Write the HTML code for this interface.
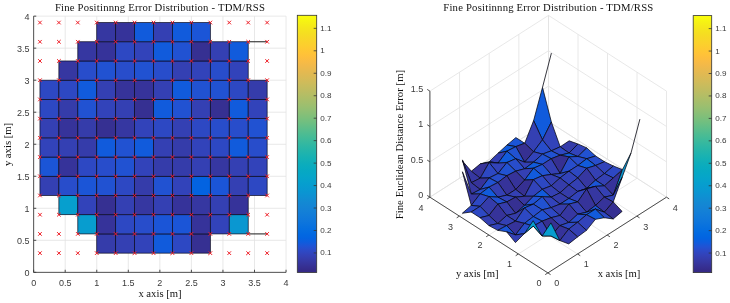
<!DOCTYPE html>
<html><head><meta charset="utf-8"><title>Fine Positinnng Error Distribution - TDM/RSS</title>
<style>html,body{margin:0;padding:0;background:#fff}svg{display:block}.t{font-family:"Liberation Sans",sans-serif;font-size:9px;fill:#3a3a3a}.c{font-family:"Liberation Sans",sans-serif;font-size:8.1px;fill:#3a3a3a}.s{font-family:"Liberation Serif",serif;fill:#111}</style></head><body>
<svg width="730" height="303" viewBox="0 0 730 303">
<rect width="730" height="303" fill="#fff"/>
<defs><linearGradient id="cb" x1="0" y1="1" x2="0" y2="0">
<stop offset="0.0078" stop-color="#352a87"/>
<stop offset="0.0234" stop-color="#363093"/>
<stop offset="0.0391" stop-color="#3637a0"/>
<stop offset="0.0547" stop-color="#353dad"/>
<stop offset="0.0703" stop-color="#3243ba"/>
<stop offset="0.0859" stop-color="#2c4ac7"/>
<stop offset="0.1016" stop-color="#2053d4"/>
<stop offset="0.1172" stop-color="#0f5cdd"/>
<stop offset="0.1328" stop-color="#0363e1"/>
<stop offset="0.1484" stop-color="#0268e1"/>
<stop offset="0.1641" stop-color="#046de0"/>
<stop offset="0.1797" stop-color="#0871de"/>
<stop offset="0.1953" stop-color="#0d75dc"/>
<stop offset="0.2109" stop-color="#1079da"/>
<stop offset="0.2266" stop-color="#127dd8"/>
<stop offset="0.2422" stop-color="#1481d6"/>
<stop offset="0.2578" stop-color="#1485d4"/>
<stop offset="0.2734" stop-color="#1389d3"/>
<stop offset="0.2891" stop-color="#108ed2"/>
<stop offset="0.3047" stop-color="#0c93d2"/>
<stop offset="0.3203" stop-color="#0998d1"/>
<stop offset="0.3359" stop-color="#079ccf"/>
<stop offset="0.3516" stop-color="#06a0cd"/>
<stop offset="0.3672" stop-color="#06a4ca"/>
<stop offset="0.3828" stop-color="#06a7c6"/>
<stop offset="0.3984" stop-color="#07a9c2"/>
<stop offset="0.4141" stop-color="#0aacbe"/>
<stop offset="0.4297" stop-color="#0faeb9"/>
<stop offset="0.4453" stop-color="#15b1b4"/>
<stop offset="0.4609" stop-color="#1db3af"/>
<stop offset="0.4766" stop-color="#25b5a9"/>
<stop offset="0.4922" stop-color="#2eb7a4"/>
<stop offset="0.5078" stop-color="#38b99e"/>
<stop offset="0.5234" stop-color="#42bb98"/>
<stop offset="0.5391" stop-color="#4dbc92"/>
<stop offset="0.5547" stop-color="#59bd8c"/>
<stop offset="0.5703" stop-color="#65be86"/>
<stop offset="0.5859" stop-color="#71bf80"/>
<stop offset="0.6016" stop-color="#7cbf7b"/>
<stop offset="0.6172" stop-color="#87bf77"/>
<stop offset="0.6328" stop-color="#92bf73"/>
<stop offset="0.6484" stop-color="#9cbf6f"/>
<stop offset="0.6641" stop-color="#a5be6b"/>
<stop offset="0.6797" stop-color="#aebe67"/>
<stop offset="0.6953" stop-color="#b7bd64"/>
<stop offset="0.7109" stop-color="#c0bc60"/>
<stop offset="0.7266" stop-color="#c8bc5d"/>
<stop offset="0.7422" stop-color="#d1bb59"/>
<stop offset="0.7578" stop-color="#d9ba56"/>
<stop offset="0.7734" stop-color="#e1b952"/>
<stop offset="0.7891" stop-color="#e9b94e"/>
<stop offset="0.8047" stop-color="#f1b94a"/>
<stop offset="0.8203" stop-color="#f8bb44"/>
<stop offset="0.8359" stop-color="#fdbe3d"/>
<stop offset="0.8516" stop-color="#ffc337"/>
<stop offset="0.8672" stop-color="#fec832"/>
<stop offset="0.8828" stop-color="#fcce2e"/>
<stop offset="0.8984" stop-color="#fad32a"/>
<stop offset="0.9141" stop-color="#f7d826"/>
<stop offset="0.9297" stop-color="#f5de21"/>
<stop offset="0.9453" stop-color="#f5e41d"/>
<stop offset="0.9609" stop-color="#f5eb18"/>
<stop offset="0.9766" stop-color="#f6f313"/>
<stop offset="0.9922" stop-color="#f9fb0e"/>
</linearGradient></defs>
<path d="M65.20 272.35V16.15M33.65 240.32H286.05M96.75 272.35V16.15M33.65 208.30H286.05M128.30 272.35V16.15M33.65 176.28H286.05M159.85 272.35V16.15M33.65 144.25H286.05M191.40 272.35V16.15M33.65 112.22H286.05M222.95 272.35V16.15M33.65 80.20H286.05M254.50 272.35V16.15M33.65 48.17H286.05M286.05 272.35V16.15M33.65 16.15H286.05" stroke="#e2e2e2" stroke-width="0.8" fill="none"/>
<rect x="96.75" y="233.92" width="18.93" height="19.21" fill="#353caa" stroke="#0a0a20" stroke-width="0.7"/>
<rect x="115.68" y="233.92" width="18.93" height="19.21" fill="#3440b3" stroke="#0a0a20" stroke-width="0.7"/>
<rect x="134.61" y="233.92" width="18.93" height="19.21" fill="#3243ba" stroke="#0a0a20" stroke-width="0.7"/>
<rect x="153.54" y="233.92" width="18.93" height="19.21" fill="#115bdc" stroke="#0a0a20" stroke-width="0.7"/>
<rect x="172.47" y="233.92" width="18.93" height="19.21" fill="#2d48c3" stroke="#0a0a20" stroke-width="0.7"/>
<rect x="191.40" y="233.92" width="18.93" height="19.21" fill="#363092" stroke="#0a0a20" stroke-width="0.7"/>
<rect x="77.82" y="214.71" width="18.93" height="19.21" fill="#079dcf" stroke="#0a0a20" stroke-width="0.7"/>
<rect x="96.75" y="214.71" width="18.93" height="19.21" fill="#36339a" stroke="#0a0a20" stroke-width="0.7"/>
<rect x="115.68" y="214.71" width="18.93" height="19.21" fill="#2d48c3" stroke="#0a0a20" stroke-width="0.7"/>
<rect x="134.61" y="214.71" width="18.93" height="19.21" fill="#284dcb" stroke="#0a0a20" stroke-width="0.7"/>
<rect x="153.54" y="214.71" width="18.93" height="19.21" fill="#1b55d7" stroke="#0a0a20" stroke-width="0.7"/>
<rect x="172.47" y="214.71" width="18.93" height="19.21" fill="#1b55d7" stroke="#0a0a20" stroke-width="0.7"/>
<rect x="191.40" y="214.71" width="18.93" height="19.21" fill="#36339a" stroke="#0a0a20" stroke-width="0.7"/>
<rect x="210.33" y="214.71" width="18.93" height="19.21" fill="#3243ba" stroke="#0a0a20" stroke-width="0.7"/>
<rect x="229.26" y="214.71" width="18.93" height="19.21" fill="#0a97d1" stroke="#0a0a20" stroke-width="0.7"/>
<rect x="58.89" y="195.49" width="18.93" height="19.21" fill="#069fce" stroke="#0a0a20" stroke-width="0.7"/>
<rect x="77.82" y="195.49" width="18.93" height="19.21" fill="#3243ba" stroke="#0a0a20" stroke-width="0.7"/>
<rect x="96.75" y="195.49" width="18.93" height="19.21" fill="#363092" stroke="#0a0a20" stroke-width="0.7"/>
<rect x="115.68" y="195.49" width="18.93" height="19.21" fill="#3440b3" stroke="#0a0a20" stroke-width="0.7"/>
<rect x="134.61" y="195.49" width="18.93" height="19.21" fill="#3637a1" stroke="#0a0a20" stroke-width="0.7"/>
<rect x="153.54" y="195.49" width="18.93" height="19.21" fill="#3440b3" stroke="#0a0a20" stroke-width="0.7"/>
<rect x="172.47" y="195.49" width="18.93" height="19.21" fill="#36339a" stroke="#0a0a20" stroke-width="0.7"/>
<rect x="191.40" y="195.49" width="18.93" height="19.21" fill="#3637a1" stroke="#0a0a20" stroke-width="0.7"/>
<rect x="210.33" y="195.49" width="18.93" height="19.21" fill="#3440b3" stroke="#0a0a20" stroke-width="0.7"/>
<rect x="229.26" y="195.49" width="18.93" height="19.21" fill="#36339a" stroke="#0a0a20" stroke-width="0.7"/>
<rect x="39.96" y="176.28" width="18.93" height="19.21" fill="#3440b3" stroke="#0a0a20" stroke-width="0.7"/>
<rect x="58.89" y="176.28" width="18.93" height="19.21" fill="#284dcb" stroke="#0a0a20" stroke-width="0.7"/>
<rect x="77.82" y="176.28" width="18.93" height="19.21" fill="#1b55d7" stroke="#0a0a20" stroke-width="0.7"/>
<rect x="96.75" y="176.28" width="18.93" height="19.21" fill="#2152d2" stroke="#0a0a20" stroke-width="0.7"/>
<rect x="115.68" y="176.28" width="18.93" height="19.21" fill="#2d48c3" stroke="#0a0a20" stroke-width="0.7"/>
<rect x="134.61" y="176.28" width="18.93" height="19.21" fill="#353caa" stroke="#0a0a20" stroke-width="0.7"/>
<rect x="153.54" y="176.28" width="18.93" height="19.21" fill="#2152d2" stroke="#0a0a20" stroke-width="0.7"/>
<rect x="172.47" y="176.28" width="18.93" height="19.21" fill="#3243ba" stroke="#0a0a20" stroke-width="0.7"/>
<rect x="191.40" y="176.28" width="18.93" height="19.21" fill="#0363e1" stroke="#0a0a20" stroke-width="0.7"/>
<rect x="210.33" y="176.28" width="18.93" height="19.21" fill="#1b55d7" stroke="#0a0a20" stroke-width="0.7"/>
<rect x="229.26" y="176.28" width="18.93" height="19.21" fill="#3440b3" stroke="#0a0a20" stroke-width="0.7"/>
<rect x="248.19" y="176.28" width="18.93" height="19.21" fill="#2d48c3" stroke="#0a0a20" stroke-width="0.7"/>
<rect x="39.96" y="157.06" width="18.93" height="19.21" fill="#1b55d7" stroke="#0a0a20" stroke-width="0.7"/>
<rect x="58.89" y="157.06" width="18.93" height="19.21" fill="#36339a" stroke="#0a0a20" stroke-width="0.7"/>
<rect x="77.82" y="157.06" width="18.93" height="19.21" fill="#2d48c3" stroke="#0a0a20" stroke-width="0.7"/>
<rect x="96.75" y="157.06" width="18.93" height="19.21" fill="#284dcb" stroke="#0a0a20" stroke-width="0.7"/>
<rect x="115.68" y="157.06" width="18.93" height="19.21" fill="#2152d2" stroke="#0a0a20" stroke-width="0.7"/>
<rect x="134.61" y="157.06" width="18.93" height="19.21" fill="#3243ba" stroke="#0a0a20" stroke-width="0.7"/>
<rect x="153.54" y="157.06" width="18.93" height="19.21" fill="#353caa" stroke="#0a0a20" stroke-width="0.7"/>
<rect x="172.47" y="157.06" width="18.93" height="19.21" fill="#353caa" stroke="#0a0a20" stroke-width="0.7"/>
<rect x="191.40" y="157.06" width="18.93" height="19.21" fill="#3440b3" stroke="#0a0a20" stroke-width="0.7"/>
<rect x="210.33" y="157.06" width="18.93" height="19.21" fill="#3637a1" stroke="#0a0a20" stroke-width="0.7"/>
<rect x="229.26" y="157.06" width="18.93" height="19.21" fill="#3440b3" stroke="#0a0a20" stroke-width="0.7"/>
<rect x="248.19" y="157.06" width="18.93" height="19.21" fill="#3243ba" stroke="#0a0a20" stroke-width="0.7"/>
<rect x="39.96" y="137.85" width="18.93" height="19.21" fill="#3243ba" stroke="#0a0a20" stroke-width="0.7"/>
<rect x="58.89" y="137.85" width="18.93" height="19.21" fill="#3440b3" stroke="#0a0a20" stroke-width="0.7"/>
<rect x="77.82" y="137.85" width="18.93" height="19.21" fill="#353caa" stroke="#0a0a20" stroke-width="0.7"/>
<rect x="96.75" y="137.85" width="18.93" height="19.21" fill="#115bdc" stroke="#0a0a20" stroke-width="0.7"/>
<rect x="115.68" y="137.85" width="18.93" height="19.21" fill="#2152d2" stroke="#0a0a20" stroke-width="0.7"/>
<rect x="134.61" y="137.85" width="18.93" height="19.21" fill="#115bdc" stroke="#0a0a20" stroke-width="0.7"/>
<rect x="153.54" y="137.85" width="18.93" height="19.21" fill="#3440b3" stroke="#0a0a20" stroke-width="0.7"/>
<rect x="172.47" y="137.85" width="18.93" height="19.21" fill="#353caa" stroke="#0a0a20" stroke-width="0.7"/>
<rect x="191.40" y="137.85" width="18.93" height="19.21" fill="#3243ba" stroke="#0a0a20" stroke-width="0.7"/>
<rect x="210.33" y="137.85" width="18.93" height="19.21" fill="#2d48c3" stroke="#0a0a20" stroke-width="0.7"/>
<rect x="229.26" y="137.85" width="18.93" height="19.21" fill="#115bdc" stroke="#0a0a20" stroke-width="0.7"/>
<rect x="248.19" y="137.85" width="18.93" height="19.21" fill="#284dcb" stroke="#0a0a20" stroke-width="0.7"/>
<rect x="39.96" y="118.63" width="18.93" height="19.21" fill="#3440b3" stroke="#0a0a20" stroke-width="0.7"/>
<rect x="58.89" y="118.63" width="18.93" height="19.21" fill="#36339a" stroke="#0a0a20" stroke-width="0.7"/>
<rect x="77.82" y="118.63" width="18.93" height="19.21" fill="#353caa" stroke="#0a0a20" stroke-width="0.7"/>
<rect x="96.75" y="118.63" width="18.93" height="19.21" fill="#363092" stroke="#0a0a20" stroke-width="0.7"/>
<rect x="115.68" y="118.63" width="18.93" height="19.21" fill="#3637a1" stroke="#0a0a20" stroke-width="0.7"/>
<rect x="134.61" y="118.63" width="18.93" height="19.21" fill="#3243ba" stroke="#0a0a20" stroke-width="0.7"/>
<rect x="153.54" y="118.63" width="18.93" height="19.21" fill="#2d48c3" stroke="#0a0a20" stroke-width="0.7"/>
<rect x="172.47" y="118.63" width="18.93" height="19.21" fill="#3440b3" stroke="#0a0a20" stroke-width="0.7"/>
<rect x="191.40" y="118.63" width="18.93" height="19.21" fill="#2d48c3" stroke="#0a0a20" stroke-width="0.7"/>
<rect x="210.33" y="118.63" width="18.93" height="19.21" fill="#284dcb" stroke="#0a0a20" stroke-width="0.7"/>
<rect x="229.26" y="118.63" width="18.93" height="19.21" fill="#284dcb" stroke="#0a0a20" stroke-width="0.7"/>
<rect x="248.19" y="118.63" width="18.93" height="19.21" fill="#2152d2" stroke="#0a0a20" stroke-width="0.7"/>
<rect x="39.96" y="99.42" width="18.93" height="19.21" fill="#2d48c3" stroke="#0a0a20" stroke-width="0.7"/>
<rect x="58.89" y="99.42" width="18.93" height="19.21" fill="#353caa" stroke="#0a0a20" stroke-width="0.7"/>
<rect x="77.82" y="99.42" width="18.93" height="19.21" fill="#2152d2" stroke="#0a0a20" stroke-width="0.7"/>
<rect x="96.75" y="99.42" width="18.93" height="19.21" fill="#3243ba" stroke="#0a0a20" stroke-width="0.7"/>
<rect x="115.68" y="99.42" width="18.93" height="19.21" fill="#3440b3" stroke="#0a0a20" stroke-width="0.7"/>
<rect x="134.61" y="99.42" width="18.93" height="19.21" fill="#363092" stroke="#0a0a20" stroke-width="0.7"/>
<rect x="153.54" y="99.42" width="18.93" height="19.21" fill="#115bdc" stroke="#0a0a20" stroke-width="0.7"/>
<rect x="172.47" y="99.42" width="18.93" height="19.21" fill="#2152d2" stroke="#0a0a20" stroke-width="0.7"/>
<rect x="191.40" y="99.42" width="18.93" height="19.21" fill="#3440b3" stroke="#0a0a20" stroke-width="0.7"/>
<rect x="210.33" y="99.42" width="18.93" height="19.21" fill="#363092" stroke="#0a0a20" stroke-width="0.7"/>
<rect x="229.26" y="99.42" width="18.93" height="19.21" fill="#115bdc" stroke="#0a0a20" stroke-width="0.7"/>
<rect x="248.19" y="99.42" width="18.93" height="19.21" fill="#3243ba" stroke="#0a0a20" stroke-width="0.7"/>
<rect x="39.96" y="80.20" width="18.93" height="19.21" fill="#2d48c3" stroke="#0a0a20" stroke-width="0.7"/>
<rect x="58.89" y="80.20" width="18.93" height="19.21" fill="#2d48c3" stroke="#0a0a20" stroke-width="0.7"/>
<rect x="77.82" y="80.20" width="18.93" height="19.21" fill="#115bdc" stroke="#0a0a20" stroke-width="0.7"/>
<rect x="96.75" y="80.20" width="18.93" height="19.21" fill="#3440b3" stroke="#0a0a20" stroke-width="0.7"/>
<rect x="115.68" y="80.20" width="18.93" height="19.21" fill="#36339a" stroke="#0a0a20" stroke-width="0.7"/>
<rect x="134.61" y="80.20" width="18.93" height="19.21" fill="#36339a" stroke="#0a0a20" stroke-width="0.7"/>
<rect x="153.54" y="80.20" width="18.93" height="19.21" fill="#3440b3" stroke="#0a0a20" stroke-width="0.7"/>
<rect x="172.47" y="80.20" width="18.93" height="19.21" fill="#115bdc" stroke="#0a0a20" stroke-width="0.7"/>
<rect x="191.40" y="80.20" width="18.93" height="19.21" fill="#2152d2" stroke="#0a0a20" stroke-width="0.7"/>
<rect x="210.33" y="80.20" width="18.93" height="19.21" fill="#2152d2" stroke="#0a0a20" stroke-width="0.7"/>
<rect x="229.26" y="80.20" width="18.93" height="19.21" fill="#2d48c3" stroke="#0a0a20" stroke-width="0.7"/>
<rect x="248.19" y="80.20" width="18.93" height="19.21" fill="#353caa" stroke="#0a0a20" stroke-width="0.7"/>
<rect x="58.89" y="60.99" width="18.93" height="19.21" fill="#3637a1" stroke="#0a0a20" stroke-width="0.7"/>
<rect x="77.82" y="60.99" width="18.93" height="19.21" fill="#284dcb" stroke="#0a0a20" stroke-width="0.7"/>
<rect x="96.75" y="60.99" width="18.93" height="19.21" fill="#2152d2" stroke="#0a0a20" stroke-width="0.7"/>
<rect x="115.68" y="60.99" width="18.93" height="19.21" fill="#284dcb" stroke="#0a0a20" stroke-width="0.7"/>
<rect x="134.61" y="60.99" width="18.93" height="19.21" fill="#2152d2" stroke="#0a0a20" stroke-width="0.7"/>
<rect x="153.54" y="60.99" width="18.93" height="19.21" fill="#284dcb" stroke="#0a0a20" stroke-width="0.7"/>
<rect x="172.47" y="60.99" width="18.93" height="19.21" fill="#3440b3" stroke="#0a0a20" stroke-width="0.7"/>
<rect x="191.40" y="60.99" width="18.93" height="19.21" fill="#3243ba" stroke="#0a0a20" stroke-width="0.7"/>
<rect x="210.33" y="60.99" width="18.93" height="19.21" fill="#284dcb" stroke="#0a0a20" stroke-width="0.7"/>
<rect x="229.26" y="60.99" width="18.93" height="19.21" fill="#3243ba" stroke="#0a0a20" stroke-width="0.7"/>
<rect x="77.82" y="41.77" width="18.93" height="19.21" fill="#3637a1" stroke="#0a0a20" stroke-width="0.7"/>
<rect x="96.75" y="41.77" width="18.93" height="19.21" fill="#36339a" stroke="#0a0a20" stroke-width="0.7"/>
<rect x="115.68" y="41.77" width="18.93" height="19.21" fill="#2d48c3" stroke="#0a0a20" stroke-width="0.7"/>
<rect x="134.61" y="41.77" width="18.93" height="19.21" fill="#3243ba" stroke="#0a0a20" stroke-width="0.7"/>
<rect x="153.54" y="41.77" width="18.93" height="19.21" fill="#115bdc" stroke="#0a0a20" stroke-width="0.7"/>
<rect x="172.47" y="41.77" width="18.93" height="19.21" fill="#2152d2" stroke="#0a0a20" stroke-width="0.7"/>
<rect x="191.40" y="41.77" width="18.93" height="19.21" fill="#363092" stroke="#0a0a20" stroke-width="0.7"/>
<rect x="210.33" y="41.77" width="18.93" height="19.21" fill="#3440b3" stroke="#0a0a20" stroke-width="0.7"/>
<rect x="229.26" y="41.77" width="18.93" height="19.21" fill="#115bdc" stroke="#0a0a20" stroke-width="0.7"/>
<rect x="96.75" y="22.56" width="18.93" height="19.21" fill="#3637a1" stroke="#0a0a20" stroke-width="0.7"/>
<rect x="115.68" y="22.56" width="18.93" height="19.21" fill="#36339a" stroke="#0a0a20" stroke-width="0.7"/>
<rect x="134.61" y="22.56" width="18.93" height="19.21" fill="#115bdc" stroke="#0a0a20" stroke-width="0.7"/>
<rect x="153.54" y="22.56" width="18.93" height="19.21" fill="#3440b3" stroke="#0a0a20" stroke-width="0.7"/>
<rect x="172.47" y="22.56" width="18.93" height="19.21" fill="#115bdc" stroke="#0a0a20" stroke-width="0.7"/>
<rect x="191.40" y="22.56" width="18.93" height="19.21" fill="#1b55d7" stroke="#0a0a20" stroke-width="0.7"/>
<path d="M248.19 41.77H267.12M248.19 233.92H267.12" stroke="#1a1a1a" stroke-width="1"/>
<path d="M38.16 251.34l3.6 3.6M38.16 254.94l3.6 -3.6M57.09 251.34l3.6 3.6M57.09 254.94l3.6 -3.6M76.02 251.34l3.6 3.6M76.02 254.94l3.6 -3.6M94.95 251.34l3.6 3.6M94.95 254.94l3.6 -3.6M113.88 251.34l3.6 3.6M113.88 254.94l3.6 -3.6M132.81 251.34l3.6 3.6M132.81 254.94l3.6 -3.6M151.74 251.34l3.6 3.6M151.74 254.94l3.6 -3.6M170.67 251.34l3.6 3.6M170.67 254.94l3.6 -3.6M189.60 251.34l3.6 3.6M189.60 254.94l3.6 -3.6M208.53 251.34l3.6 3.6M208.53 254.94l3.6 -3.6M227.46 251.34l3.6 3.6M227.46 254.94l3.6 -3.6M246.39 251.34l3.6 3.6M246.39 254.94l3.6 -3.6M265.32 251.34l3.6 3.6M265.32 254.94l3.6 -3.6M38.16 232.12l3.6 3.6M38.16 235.72l3.6 -3.6M57.09 232.12l3.6 3.6M57.09 235.72l3.6 -3.6M76.02 232.12l3.6 3.6M76.02 235.72l3.6 -3.6M94.95 232.12l3.6 3.6M94.95 235.72l3.6 -3.6M113.88 232.12l3.6 3.6M113.88 235.72l3.6 -3.6M132.81 232.12l3.6 3.6M132.81 235.72l3.6 -3.6M151.74 232.12l3.6 3.6M151.74 235.72l3.6 -3.6M170.67 232.12l3.6 3.6M170.67 235.72l3.6 -3.6M189.60 232.12l3.6 3.6M189.60 235.72l3.6 -3.6M208.53 232.12l3.6 3.6M208.53 235.72l3.6 -3.6M227.46 232.12l3.6 3.6M227.46 235.72l3.6 -3.6M246.39 232.12l3.6 3.6M246.39 235.72l3.6 -3.6M265.32 232.12l3.6 3.6M265.32 235.72l3.6 -3.6M38.16 212.91l3.6 3.6M38.16 216.51l3.6 -3.6M57.09 212.91l3.6 3.6M57.09 216.51l3.6 -3.6M76.02 212.91l3.6 3.6M76.02 216.51l3.6 -3.6M94.95 212.91l3.6 3.6M94.95 216.51l3.6 -3.6M113.88 212.91l3.6 3.6M113.88 216.51l3.6 -3.6M132.81 212.91l3.6 3.6M132.81 216.51l3.6 -3.6M151.74 212.91l3.6 3.6M151.74 216.51l3.6 -3.6M170.67 212.91l3.6 3.6M170.67 216.51l3.6 -3.6M189.60 212.91l3.6 3.6M189.60 216.51l3.6 -3.6M208.53 212.91l3.6 3.6M208.53 216.51l3.6 -3.6M227.46 212.91l3.6 3.6M227.46 216.51l3.6 -3.6M246.39 212.91l3.6 3.6M246.39 216.51l3.6 -3.6M265.32 212.91l3.6 3.6M265.32 216.51l3.6 -3.6M38.16 193.69l3.6 3.6M38.16 197.29l3.6 -3.6M57.09 193.69l3.6 3.6M57.09 197.29l3.6 -3.6M76.02 193.69l3.6 3.6M76.02 197.29l3.6 -3.6M94.95 193.69l3.6 3.6M94.95 197.29l3.6 -3.6M113.88 193.69l3.6 3.6M113.88 197.29l3.6 -3.6M132.81 193.69l3.6 3.6M132.81 197.29l3.6 -3.6M151.74 193.69l3.6 3.6M151.74 197.29l3.6 -3.6M170.67 193.69l3.6 3.6M170.67 197.29l3.6 -3.6M189.60 193.69l3.6 3.6M189.60 197.29l3.6 -3.6M208.53 193.69l3.6 3.6M208.53 197.29l3.6 -3.6M227.46 193.69l3.6 3.6M227.46 197.29l3.6 -3.6M246.39 193.69l3.6 3.6M246.39 197.29l3.6 -3.6M265.32 193.69l3.6 3.6M265.32 197.29l3.6 -3.6M38.16 174.47l3.6 3.6M38.16 178.08l3.6 -3.6M57.09 174.47l3.6 3.6M57.09 178.08l3.6 -3.6M76.02 174.47l3.6 3.6M76.02 178.08l3.6 -3.6M94.95 174.47l3.6 3.6M94.95 178.08l3.6 -3.6M113.88 174.47l3.6 3.6M113.88 178.08l3.6 -3.6M132.81 174.47l3.6 3.6M132.81 178.08l3.6 -3.6M151.74 174.47l3.6 3.6M151.74 178.08l3.6 -3.6M170.67 174.47l3.6 3.6M170.67 178.08l3.6 -3.6M189.60 174.47l3.6 3.6M189.60 178.08l3.6 -3.6M208.53 174.47l3.6 3.6M208.53 178.08l3.6 -3.6M227.46 174.47l3.6 3.6M227.46 178.08l3.6 -3.6M246.39 174.47l3.6 3.6M246.39 178.08l3.6 -3.6M265.32 174.47l3.6 3.6M265.32 178.08l3.6 -3.6M38.16 155.26l3.6 3.6M38.16 158.86l3.6 -3.6M57.09 155.26l3.6 3.6M57.09 158.86l3.6 -3.6M76.02 155.26l3.6 3.6M76.02 158.86l3.6 -3.6M94.95 155.26l3.6 3.6M94.95 158.86l3.6 -3.6M113.88 155.26l3.6 3.6M113.88 158.86l3.6 -3.6M132.81 155.26l3.6 3.6M132.81 158.86l3.6 -3.6M151.74 155.26l3.6 3.6M151.74 158.86l3.6 -3.6M170.67 155.26l3.6 3.6M170.67 158.86l3.6 -3.6M189.60 155.26l3.6 3.6M189.60 158.86l3.6 -3.6M208.53 155.26l3.6 3.6M208.53 158.86l3.6 -3.6M227.46 155.26l3.6 3.6M227.46 158.86l3.6 -3.6M246.39 155.26l3.6 3.6M246.39 158.86l3.6 -3.6M265.32 155.26l3.6 3.6M265.32 158.86l3.6 -3.6M38.16 136.05l3.6 3.6M38.16 139.65l3.6 -3.6M57.09 136.05l3.6 3.6M57.09 139.65l3.6 -3.6M76.02 136.05l3.6 3.6M76.02 139.65l3.6 -3.6M94.95 136.05l3.6 3.6M94.95 139.65l3.6 -3.6M113.88 136.05l3.6 3.6M113.88 139.65l3.6 -3.6M132.81 136.05l3.6 3.6M132.81 139.65l3.6 -3.6M151.74 136.05l3.6 3.6M151.74 139.65l3.6 -3.6M170.67 136.05l3.6 3.6M170.67 139.65l3.6 -3.6M189.60 136.05l3.6 3.6M189.60 139.65l3.6 -3.6M208.53 136.05l3.6 3.6M208.53 139.65l3.6 -3.6M227.46 136.05l3.6 3.6M227.46 139.65l3.6 -3.6M246.39 136.05l3.6 3.6M246.39 139.65l3.6 -3.6M265.32 136.05l3.6 3.6M265.32 139.65l3.6 -3.6M38.16 116.83l3.6 3.6M38.16 120.43l3.6 -3.6M57.09 116.83l3.6 3.6M57.09 120.43l3.6 -3.6M76.02 116.83l3.6 3.6M76.02 120.43l3.6 -3.6M94.95 116.83l3.6 3.6M94.95 120.43l3.6 -3.6M113.88 116.83l3.6 3.6M113.88 120.43l3.6 -3.6M132.81 116.83l3.6 3.6M132.81 120.43l3.6 -3.6M151.74 116.83l3.6 3.6M151.74 120.43l3.6 -3.6M170.67 116.83l3.6 3.6M170.67 120.43l3.6 -3.6M189.60 116.83l3.6 3.6M189.60 120.43l3.6 -3.6M208.53 116.83l3.6 3.6M208.53 120.43l3.6 -3.6M227.46 116.83l3.6 3.6M227.46 120.43l3.6 -3.6M246.39 116.83l3.6 3.6M246.39 120.43l3.6 -3.6M265.32 116.83l3.6 3.6M265.32 120.43l3.6 -3.6M38.16 97.62l3.6 3.6M38.16 101.22l3.6 -3.6M57.09 97.62l3.6 3.6M57.09 101.22l3.6 -3.6M76.02 97.62l3.6 3.6M76.02 101.22l3.6 -3.6M94.95 97.62l3.6 3.6M94.95 101.22l3.6 -3.6M113.88 97.62l3.6 3.6M113.88 101.22l3.6 -3.6M132.81 97.62l3.6 3.6M132.81 101.22l3.6 -3.6M151.74 97.62l3.6 3.6M151.74 101.22l3.6 -3.6M170.67 97.62l3.6 3.6M170.67 101.22l3.6 -3.6M189.60 97.62l3.6 3.6M189.60 101.22l3.6 -3.6M208.53 97.62l3.6 3.6M208.53 101.22l3.6 -3.6M227.46 97.62l3.6 3.6M227.46 101.22l3.6 -3.6M246.39 97.62l3.6 3.6M246.39 101.22l3.6 -3.6M265.32 97.62l3.6 3.6M265.32 101.22l3.6 -3.6M38.16 78.40l3.6 3.6M38.16 82.00l3.6 -3.6M57.09 78.40l3.6 3.6M57.09 82.00l3.6 -3.6M76.02 78.40l3.6 3.6M76.02 82.00l3.6 -3.6M94.95 78.40l3.6 3.6M94.95 82.00l3.6 -3.6M113.88 78.40l3.6 3.6M113.88 82.00l3.6 -3.6M132.81 78.40l3.6 3.6M132.81 82.00l3.6 -3.6M151.74 78.40l3.6 3.6M151.74 82.00l3.6 -3.6M170.67 78.40l3.6 3.6M170.67 82.00l3.6 -3.6M189.60 78.40l3.6 3.6M189.60 82.00l3.6 -3.6M208.53 78.40l3.6 3.6M208.53 82.00l3.6 -3.6M227.46 78.40l3.6 3.6M227.46 82.00l3.6 -3.6M246.39 78.40l3.6 3.6M246.39 82.00l3.6 -3.6M265.32 78.40l3.6 3.6M265.32 82.00l3.6 -3.6M38.16 59.19l3.6 3.6M38.16 62.79l3.6 -3.6M57.09 59.19l3.6 3.6M57.09 62.79l3.6 -3.6M76.02 59.19l3.6 3.6M76.02 62.79l3.6 -3.6M94.95 59.19l3.6 3.6M94.95 62.79l3.6 -3.6M113.88 59.19l3.6 3.6M113.88 62.79l3.6 -3.6M132.81 59.19l3.6 3.6M132.81 62.79l3.6 -3.6M151.74 59.19l3.6 3.6M151.74 62.79l3.6 -3.6M170.67 59.19l3.6 3.6M170.67 62.79l3.6 -3.6M189.60 59.19l3.6 3.6M189.60 62.79l3.6 -3.6M208.53 59.19l3.6 3.6M208.53 62.79l3.6 -3.6M227.46 59.19l3.6 3.6M227.46 62.79l3.6 -3.6M246.39 59.19l3.6 3.6M246.39 62.79l3.6 -3.6M265.32 59.19l3.6 3.6M265.32 62.79l3.6 -3.6M38.16 39.97l3.6 3.6M38.16 43.57l3.6 -3.6M57.09 39.97l3.6 3.6M57.09 43.57l3.6 -3.6M76.02 39.97l3.6 3.6M76.02 43.57l3.6 -3.6M94.95 39.97l3.6 3.6M94.95 43.57l3.6 -3.6M113.88 39.97l3.6 3.6M113.88 43.57l3.6 -3.6M132.81 39.97l3.6 3.6M132.81 43.57l3.6 -3.6M151.74 39.97l3.6 3.6M151.74 43.57l3.6 -3.6M170.67 39.97l3.6 3.6M170.67 43.57l3.6 -3.6M189.60 39.97l3.6 3.6M189.60 43.57l3.6 -3.6M208.53 39.97l3.6 3.6M208.53 43.57l3.6 -3.6M227.46 39.97l3.6 3.6M227.46 43.57l3.6 -3.6M246.39 39.97l3.6 3.6M246.39 43.57l3.6 -3.6M265.32 39.97l3.6 3.6M265.32 43.57l3.6 -3.6M38.16 20.76l3.6 3.6M38.16 24.36l3.6 -3.6M57.09 20.76l3.6 3.6M57.09 24.36l3.6 -3.6M76.02 20.76l3.6 3.6M76.02 24.36l3.6 -3.6M94.95 20.76l3.6 3.6M94.95 24.36l3.6 -3.6M113.88 20.76l3.6 3.6M113.88 24.36l3.6 -3.6M132.81 20.76l3.6 3.6M132.81 24.36l3.6 -3.6M151.74 20.76l3.6 3.6M151.74 24.36l3.6 -3.6M170.67 20.76l3.6 3.6M170.67 24.36l3.6 -3.6M189.60 20.76l3.6 3.6M189.60 24.36l3.6 -3.6M208.53 20.76l3.6 3.6M208.53 24.36l3.6 -3.6M227.46 20.76l3.6 3.6M227.46 24.36l3.6 -3.6M246.39 20.76l3.6 3.6M246.39 24.36l3.6 -3.6M265.32 20.76l3.6 3.6M265.32 24.36l3.6 -3.6" stroke="#ee1c25" stroke-width="1.0" fill="none"/>
<path d="M33.65 16.15V272.35H286.05M33.65 272.35v-2.6M33.65 272.35h2.6M65.20 272.35v-2.6M33.65 240.32h2.6M96.75 272.35v-2.6M33.65 208.30h2.6M128.30 272.35v-2.6M33.65 176.28h2.6M159.85 272.35v-2.6M33.65 144.25h2.6M191.40 272.35v-2.6M33.65 112.22h2.6M222.95 272.35v-2.6M33.65 80.20h2.6M254.50 272.35v-2.6M33.65 48.17h2.6M286.05 272.35v-2.6M33.65 16.15h2.6" stroke="#3a3a3a" stroke-width="0.9" fill="none"/>
<text class="t" x="33.65" y="286.4" text-anchor="middle">0</text>
<text class="t" x="29.6" y="276.25" text-anchor="end">0</text>
<text class="t" x="65.20" y="286.4" text-anchor="middle">0.5</text>
<text class="t" x="29.6" y="244.22" text-anchor="end">0.5</text>
<text class="t" x="96.75" y="286.4" text-anchor="middle">1</text>
<text class="t" x="29.6" y="212.20" text-anchor="end">1</text>
<text class="t" x="128.30" y="286.4" text-anchor="middle">1.5</text>
<text class="t" x="29.6" y="180.18" text-anchor="end">1.5</text>
<text class="t" x="159.85" y="286.4" text-anchor="middle">2</text>
<text class="t" x="29.6" y="148.15" text-anchor="end">2</text>
<text class="t" x="191.40" y="286.4" text-anchor="middle">2.5</text>
<text class="t" x="29.6" y="116.12" text-anchor="end">2.5</text>
<text class="t" x="222.95" y="286.4" text-anchor="middle">3</text>
<text class="t" x="29.6" y="84.10" text-anchor="end">3</text>
<text class="t" x="254.50" y="286.4" text-anchor="middle">3.5</text>
<text class="t" x="29.6" y="52.07" text-anchor="end">3.5</text>
<text class="t" x="286.05" y="286.4" text-anchor="middle">4</text>
<text class="t" x="29.6" y="20.05" text-anchor="end">4</text>
<text class="s" x="159.9" y="10.8" text-anchor="middle" font-size="10.7" textLength="210" lengthAdjust="spacing">Fine Positinnng Error Distribution - TDM/RSS</text>
<text class="s" x="160" y="297.4" text-anchor="middle" font-size="10.7" textLength="43.2" lengthAdjust="spacing">x axis [m]</text>
<text class="s" transform="translate(11.3 144.5) rotate(-90)" text-anchor="middle" font-size="10.7" textLength="43.2" lengthAdjust="spacing">y axis [m]</text>
<rect x="297.30" y="15.30" width="19.40" height="257.20" fill="url(#cb)" stroke="#333" stroke-width="0.8"/>
<text class="c" x="320.30" y="255.46">0.1</text>
<text class="c" x="320.30" y="232.99">0.2</text>
<text class="c" x="320.30" y="210.53">0.3</text>
<text class="c" x="320.30" y="188.07">0.4</text>
<text class="c" x="320.30" y="165.61">0.5</text>
<text class="c" x="320.30" y="143.14">0.6</text>
<text class="c" x="320.30" y="120.68">0.7</text>
<text class="c" x="320.30" y="98.22">0.8</text>
<text class="c" x="320.30" y="75.75">0.9</text>
<text class="c" x="320.30" y="53.29">1</text>
<text class="c" x="320.30" y="30.83">1.1</text>
<path d="M316.70 252.96h-3M316.70 230.49h-3M316.70 208.03h-3M316.70 185.57h-3M316.70 163.11h-3M316.70 140.64h-3M316.70 118.18h-3M316.70 95.72h-3M316.70 73.25h-3M316.70 50.79h-3M316.70 28.33h-3" stroke="#333" stroke-width="0.8"/>
<path d="M547.90 272.90L429.90 197.18M429.90 197.18L429.90 91.13M547.90 272.90L666.50 197.18M666.50 197.18L666.50 91.13M577.55 253.97L459.55 178.25M459.55 178.25L459.55 72.20M518.40 253.97L637.00 178.25M637.00 178.25L637.00 72.20M607.20 235.04L489.20 159.32M489.20 159.32L489.20 53.27M488.90 235.04L607.50 159.32M607.50 159.32L607.50 53.27M636.85 216.11L518.85 140.39M518.85 140.39L518.85 34.34M459.40 216.11L578.00 140.39M578.00 140.39L578.00 34.34M666.50 197.18L548.50 121.46M548.50 121.46L548.50 15.41M429.90 197.18L548.50 121.46M548.50 121.46L548.50 15.41M429.90 197.18L548.50 121.46M548.50 121.46L666.50 197.18M429.90 161.83L548.50 86.11M548.50 86.11L666.50 161.83M429.90 126.48L548.50 50.76M548.50 50.76L666.50 126.48M429.90 91.13L548.50 15.41M548.50 15.41L666.50 91.13" stroke="#e2e2e2" stroke-width="0.8" fill="none"/>
<path d="M666.50 197.18L547.90 272.90L429.90 197.18L429.90 91.13M547.90 272.90l2.69 1.73M547.90 272.90l-2.70 1.72M577.55 253.97l2.69 1.73M518.40 253.97l-2.70 1.72M607.20 235.04l2.69 1.73M488.90 235.04l-2.70 1.72M636.85 216.11l2.69 1.73M459.40 216.11l-2.70 1.72M666.50 197.18l2.69 1.73M429.90 197.18l-2.70 1.72M429.90 197.18l-2.69 -1.73M429.90 161.83l-2.69 -1.73M429.90 126.48l-2.69 -1.73M429.90 91.13l-2.69 -1.73" stroke="#3a3a3a" stroke-width="0.9" fill="none"/>
<g stroke="#05050f" stroke-width="0.75" stroke-linejoin="round">
<path d="M542.51 87.36L551.40 53.12" fill="none" stroke-width="0.8"/>
<path d="M542.46 139.82L551.36 122.03L542.51 87.36L533.62 120.62Z" fill="#115bdc"/>
<path d="M569.06 153.02L577.96 143.97L569.11 140.84L560.21 146.80Z" fill="#353caa"/>
<path d="M551.31 150.82L560.21 146.80L551.36 122.03L542.46 139.82Z" fill="#3243ba"/>
<path d="M533.57 151.74L542.46 139.82L533.62 120.62L524.72 143.26Z" fill="#3440b3"/>
<path d="M515.83 146.60L524.72 143.26L515.87 137.59L506.98 145.03Z" fill="#1b55d7"/>
<path d="M577.91 156.50L586.81 147.88L577.96 143.97L569.06 153.02Z" fill="#3243ba"/>
<path d="M560.16 155.22L569.06 153.02L560.21 146.80L551.31 150.82Z" fill="#2d48c3"/>
<path d="M524.67 162.19L533.57 151.74L524.72 143.26L515.83 146.60Z" fill="#363092"/>
<path d="M506.93 151.18L515.83 146.60L506.98 145.03L498.08 153.18Z" fill="#115bdc"/>
<path d="M542.42 154.12L551.31 150.82L542.46 139.82L533.57 151.74Z" fill="#284dcb"/>
<path d="M586.76 158.70L595.65 156.04L586.81 147.88L577.91 156.50Z" fill="#2152d2"/>
<path d="M569.01 156.86L577.91 156.50L569.06 153.02L560.16 155.22Z" fill="#115bdc"/>
<path d="M551.27 158.70L560.16 155.22L551.31 150.82L542.42 154.12Z" fill="#2152d2"/>
<path d="M533.52 162.18L542.42 154.12L533.57 151.74L524.67 162.19Z" fill="#3243ba"/>
<path d="M515.78 158.70L524.67 162.19L515.83 146.60L506.93 151.18Z" fill="#2152d2"/>
<path d="M498.04 163.10L506.93 151.18L498.08 153.18L489.19 161.69Z" fill="#3440b3"/>
<path d="M595.61 165.48L604.50 161.71L595.65 156.04L586.76 158.70Z" fill="#284dcb"/>
<path d="M577.87 165.48L586.76 158.70L577.91 156.50L569.01 156.86Z" fill="#284dcb"/>
<path d="M560.12 173.54L569.01 156.86L560.16 155.22L551.27 158.70Z" fill="#363092"/>
<path d="M542.38 164.37L551.27 158.70L542.42 154.12L533.52 162.18Z" fill="#2152d2"/>
<path d="M524.63 168.78L533.52 162.18L524.67 162.19L515.78 158.70Z" fill="#3440b3"/>
<path d="M506.88 162.54L515.78 158.70L506.93 151.18L498.04 163.10Z" fill="#115bdc"/>
<path d="M489.14 162.54L498.04 163.10L489.19 161.69L480.29 163.84Z" fill="#115bdc"/>
<path d="M604.46 173.54L613.36 165.98L604.50 161.71L595.61 165.48Z" fill="#3243ba"/>
<path d="M586.71 168.22L595.61 165.48L586.76 158.70L577.87 165.48Z" fill="#115bdc"/>
<path d="M551.23 174.46L560.12 173.54L551.27 158.70L542.38 164.37Z" fill="#3440b3"/>
<path d="M533.48 168.22L542.38 164.37L533.52 162.18L524.63 168.78Z" fill="#115bdc"/>
<path d="M497.99 173.54L506.88 162.54L498.04 163.10L489.14 162.54Z" fill="#3243ba"/>
<path d="M568.97 171.15L577.87 165.48L569.01 156.86L560.12 173.54Z" fill="#284dcb"/>
<path d="M515.74 171.15L524.63 168.78L515.78 158.70L506.88 162.54Z" fill="#284dcb"/>
<path d="M480.24 178.12L489.14 162.54L480.29 163.84L471.39 171.28Z" fill="#36339a"/>
<path d="M613.31 177.93L622.21 169.54L613.36 165.98L604.46 173.54Z" fill="#2d48c3"/>
<path d="M595.56 180.13L604.46 173.54L595.61 165.48L586.71 168.22Z" fill="#3440b3"/>
<path d="M577.82 177.93L586.71 168.22L577.87 165.48L568.97 171.15Z" fill="#2d48c3"/>
<path d="M560.08 177.93L568.97 171.15L560.12 173.54L551.23 174.46Z" fill="#2d48c3"/>
<path d="M542.33 175.73L551.23 174.46L542.38 164.37L533.48 168.22Z" fill="#2152d2"/>
<path d="M524.59 180.13L533.48 168.22L524.63 168.78L515.74 171.15Z" fill="#3440b3"/>
<path d="M506.84 175.73L515.74 171.15L506.88 162.54L497.99 173.54Z" fill="#2152d2"/>
<path d="M489.09 177.93L497.99 173.54L489.14 162.54L480.24 178.12Z" fill="#2d48c3"/>
<path d="M471.35 182.70L480.24 178.12L471.39 171.28L462.50 161.05Z" fill="#3637a1"/>
<path d="M604.41 185.81L613.31 177.93L604.46 173.54L595.56 180.13Z" fill="#3440b3"/>
<path d="M586.67 188.38L595.56 180.13L586.71 168.22L577.82 177.93Z" fill="#3637a1"/>
<path d="M568.92 184.90L577.82 177.93L568.97 171.15L560.08 177.93Z" fill="#3243ba"/>
<path d="M551.18 185.81L560.08 177.93L551.23 174.46L542.33 175.73Z" fill="#3440b3"/>
<path d="M533.44 179.58L542.33 175.73L533.48 168.22L524.59 180.13Z" fill="#115bdc"/>
<path d="M515.69 189.48L524.59 180.13L515.74 171.15L506.84 175.73Z" fill="#36339a"/>
<path d="M497.94 182.51L506.84 175.73L497.99 173.54L489.09 177.93Z" fill="#284dcb"/>
<path d="M480.20 189.48L489.09 177.93L480.24 178.12L471.35 182.70Z" fill="#36339a"/>
<path d="M613.26 195.16L622.16 170.29L613.31 177.93L604.41 185.81Z" fill="#36339a"/>
<path d="M595.52 186.36L604.41 185.81L595.56 180.13L586.67 188.38Z" fill="#1b55d7"/>
<path d="M577.77 191.49L586.67 188.38L577.82 177.93L568.92 184.90Z" fill="#3440b3"/>
<path d="M560.03 192.78L568.92 184.90L560.08 177.93L551.18 185.81Z" fill="#353caa"/>
<path d="M524.54 196.26L533.44 179.58L524.59 180.13L515.69 189.48Z" fill="#363092"/>
<path d="M506.79 195.16L515.69 189.48L506.84 175.73L497.94 182.51Z" fill="#36339a"/>
<path d="M471.30 194.06L480.20 189.48L471.35 182.70L462.45 159.90Z" fill="#3637a1"/>
<path d="M542.29 189.29L551.18 185.81L542.33 175.73L533.44 179.58Z" fill="#2d48c3"/>
<path d="M489.05 187.09L497.94 182.51L489.09 177.93L480.20 189.48Z" fill="#2152d2"/>
<path d="M622.11 177.41L631.01 152.99L622.16 170.29L613.26 195.16Z" fill="#0a97d1"/>
<path d="M586.62 188.92L595.52 186.36L586.67 188.38L577.77 191.49Z" fill="#0363e1"/>
<path d="M568.88 198.46L577.77 191.49L568.92 184.90L560.03 192.78Z" fill="#353caa"/>
<path d="M551.13 197.17L560.03 192.78L551.18 185.81L542.29 189.29Z" fill="#3440b3"/>
<path d="M515.64 197.17L524.54 196.26L515.69 189.48L506.79 195.16Z" fill="#3440b3"/>
<path d="M604.37 197.17L613.26 195.16L604.41 185.81L595.52 186.36Z" fill="#3440b3"/>
<path d="M533.39 196.25L542.29 189.29L533.44 179.58L524.54 196.26Z" fill="#3243ba"/>
<path d="M497.90 197.17L506.79 195.16L497.94 182.51L489.05 187.09Z" fill="#3440b3"/>
<path d="M480.15 193.87L489.05 187.09L480.20 189.48L471.30 194.06Z" fill="#284dcb"/>
<path d="M577.73 201.93L586.62 188.92L577.77 191.49L568.88 198.46Z" fill="#3243ba"/>
<path d="M542.24 196.61L551.13 197.17L542.29 189.29L533.39 196.25Z" fill="#115bdc"/>
<path d="M613.22 201.93L622.11 177.41L613.26 195.16L604.37 197.17Z" fill="#3243ba"/>
<path d="M595.48 205.42L604.37 197.17L595.52 186.36L586.62 188.92Z" fill="#3637a1"/>
<path d="M559.99 204.13L568.88 198.46L560.03 192.78L551.13 197.17Z" fill="#353caa"/>
<path d="M506.75 201.93L515.64 197.17L506.79 195.16L497.90 197.17Z" fill="#3243ba"/>
<path d="M524.49 205.42L533.39 196.25L524.54 196.26L515.64 197.17Z" fill="#3637a1"/>
<path d="M489.00 196.61L497.90 197.17L489.05 187.09L480.15 193.87Z" fill="#115bdc"/>
<path d="M471.26 205.42L480.15 193.87L471.30 194.06L462.41 171.75Z" fill="#3637a1"/>
<path d="M604.32 212.20L613.22 201.93L604.37 197.17L595.48 205.42Z" fill="#36339a"/>
<path d="M586.58 212.20L595.48 205.42L586.62 188.92L577.73 201.93Z" fill="#36339a"/>
<path d="M551.09 207.61L559.99 204.13L551.13 197.17L542.24 196.61Z" fill="#3243ba"/>
<path d="M533.34 204.13L542.24 196.61L533.39 196.25L524.49 205.42Z" fill="#2152d2"/>
<path d="M568.84 204.13L577.73 201.93L568.88 198.46L559.99 204.13Z" fill="#2152d2"/>
<path d="M515.60 213.30L524.49 205.42L515.64 197.17L506.75 201.93Z" fill="#363092"/>
<path d="M497.85 204.13L506.75 201.93L497.90 197.17L489.00 196.61Z" fill="#2152d2"/>
<path d="M480.11 206.33L489.00 196.61L480.15 193.87L471.26 205.42Z" fill="#2d48c3"/>
<path d="M595.43 209.07L604.32 212.20L595.48 205.42L586.58 212.20Z" fill="#1b55d7"/>
<path d="M613.17 218.98L622.07 211.39L613.22 201.93L604.32 212.20Z" fill="#363092"/>
<path d="M577.69 214.21L586.58 212.20L577.73 201.93L568.84 204.13Z" fill="#3440b3"/>
<path d="M559.94 215.49L568.84 204.13L559.99 204.13L551.09 207.61Z" fill="#353caa"/>
<path d="M542.19 209.81L551.09 207.61L542.24 196.61L533.34 204.13Z" fill="#2152d2"/>
<path d="M524.45 207.97L533.34 204.13L524.49 205.42L515.60 213.30Z" fill="#115bdc"/>
<path d="M506.70 215.49L515.60 213.30L506.75 201.93L497.85 204.13Z" fill="#353caa"/>
<path d="M488.96 215.49L497.85 204.13L489.00 196.61L480.11 206.33Z" fill="#353caa"/>
<path d="M471.22 212.01L480.11 206.33L471.26 205.42L462.37 213.23Z" fill="#2d48c3"/>
<path d="M604.28 217.69L613.17 218.98L604.32 212.20L595.43 209.07Z" fill="#2d48c3"/>
<path d="M586.53 214.75L595.43 209.07L586.58 212.20L577.69 214.21Z" fill="#1b55d7"/>
<path d="M568.79 222.46L577.69 214.21L568.84 204.13L559.94 215.49Z" fill="#3637a1"/>
<path d="M551.04 217.69L559.94 215.49L551.09 207.61L542.19 209.81Z" fill="#2d48c3"/>
<path d="M533.30 216.59L542.19 209.81L533.34 204.13L524.45 207.97Z" fill="#284dcb"/>
<path d="M515.55 221.17L524.45 207.97L515.60 213.30L506.70 215.49Z" fill="#353caa"/>
<path d="M480.06 217.69L488.96 215.49L480.11 206.33L471.22 212.01Z" fill="#2d48c3"/>
<path d="M497.81 223.56L506.70 215.49L497.85 204.13L488.96 215.49Z" fill="#36339a"/>
<path d="M577.64 222.27L586.53 214.75L577.69 214.21L568.79 222.46Z" fill="#284dcb"/>
<path d="M559.89 225.57L568.79 222.46L559.94 215.49L551.04 217.69Z" fill="#3440b3"/>
<path d="M524.40 223.37L533.30 216.59L524.45 207.97L515.55 221.17Z" fill="#2d48c3"/>
<path d="M506.66 225.57L515.55 221.17L506.70 215.49L497.81 223.56Z" fill="#3440b3"/>
<path d="M595.38 219.33L604.28 217.69L595.43 209.07L586.53 214.75Z" fill="#115bdc"/>
<path d="M542.15 221.16L551.04 217.69L542.19 209.81L533.30 216.59Z" fill="#2152d2"/>
<path d="M488.92 225.57L497.81 223.56L488.96 215.49L480.06 217.69Z" fill="#3440b3"/>
<path d="M586.49 230.33L595.38 219.33L586.53 214.75L577.64 222.27Z" fill="#3243ba"/>
<path d="M497.76 230.33L506.66 225.57L497.81 223.56L488.92 225.57Z" fill="#3243ba"/>
<path d="M568.74 229.04L577.64 222.27L568.79 222.46L559.89 225.57Z" fill="#2d48c3"/>
<path d="M551.00 236.01L559.89 225.57L551.04 217.69L542.15 221.16Z" fill="#363092"/>
<path d="M533.25 226.11L542.15 221.16L533.30 216.59L524.40 223.37Z" fill="#1b55d7"/>
<path d="M515.51 234.91L524.40 223.37L515.55 221.17L506.66 225.57Z" fill="#36339a"/>
<path d="M577.59 236.92L586.49 230.33L577.64 222.27L568.74 229.04Z" fill="#3440b3"/>
<path d="M524.36 233.62L533.25 226.11L524.40 223.37L515.51 234.91Z" fill="#284dcb"/>
<path d="M506.62 231.79L515.51 234.91L506.66 225.57L497.76 230.33Z" fill="#1b55d7"/>
<path d="M559.85 240.59L568.74 229.04L559.89 225.57L551.00 236.01Z" fill="#36339a"/>
<path d="M542.11 236.01L551.00 236.01L542.15 221.16L533.25 226.11Z" fill="#3243ba"/>
<path d="M515.47 242.60L524.36 233.62L515.51 234.91L506.62 231.79Z" fill="#3440b3"/>
<path d="M568.70 243.89L577.59 236.92L568.74 229.04L559.85 240.59Z" fill="#353caa"/>
<path d="M550.95 222.84L559.85 240.59L551.00 236.01L542.11 236.01Z" fill="#079dcf"/>
<path d="M533.21 220.72L542.11 236.01L533.25 226.11L524.36 233.62Z" fill="#069fce"/>
<path d="M631.01 152.99L639.90 119.17" fill="none" stroke-width="0.8"/>
</g>
<text class="t" x="556.70" y="286.30" text-anchor="middle">0</text>
<text class="t" x="539.10" y="286.30" text-anchor="middle">0</text>
<text class="t" x="586.35" y="267.37" text-anchor="middle">1</text>
<text class="t" x="509.60" y="267.37" text-anchor="middle">1</text>
<text class="t" x="616.00" y="248.44" text-anchor="middle">2</text>
<text class="t" x="480.10" y="248.44" text-anchor="middle">2</text>
<text class="t" x="645.65" y="229.51" text-anchor="middle">3</text>
<text class="t" x="450.60" y="229.51" text-anchor="middle">3</text>
<text class="t" x="675.30" y="210.58" text-anchor="middle">4</text>
<text class="t" x="421.10" y="210.58" text-anchor="middle">4</text>
<text class="t" x="423.30" y="198.18" text-anchor="end">0</text>
<text class="t" x="423.30" y="162.83" text-anchor="end">0.5</text>
<text class="t" x="423.30" y="127.48" text-anchor="end">1</text>
<text class="t" x="423.30" y="92.13" text-anchor="end">1.5</text>
<text class="s" x="548.3" y="11.0" text-anchor="middle" font-size="10.7" textLength="210" lengthAdjust="spacing">Fine Positinnng Error Distribution - TDM/RSS</text>
<text class="s" x="619" y="277.3" text-anchor="middle" font-size="10.7" textLength="42.5" lengthAdjust="spacing">x axis [m]</text>
<text class="s" x="477.2" y="277.1" text-anchor="middle" font-size="10.7" textLength="42.5" lengthAdjust="spacing">y axis [m]</text>
<text class="s" transform="translate(403.2 144.6) rotate(-90)" text-anchor="middle" font-size="10.7" textLength="149.4" lengthAdjust="spacing">Fine Euclidean Distance Error [m]</text>
<rect x="693.20" y="15.60" width="18.50" height="257.00" fill="url(#cb)" stroke="#333" stroke-width="0.8"/>
<text class="c" x="715.30" y="255.57">0.1</text>
<text class="c" x="715.30" y="233.13">0.2</text>
<text class="c" x="715.30" y="210.68">0.3</text>
<text class="c" x="715.30" y="188.24">0.4</text>
<text class="c" x="715.30" y="165.79">0.5</text>
<text class="c" x="715.30" y="143.35">0.6</text>
<text class="c" x="715.30" y="120.90">0.7</text>
<text class="c" x="715.30" y="98.45">0.8</text>
<text class="c" x="715.30" y="76.01">0.9</text>
<text class="c" x="715.30" y="53.56">1</text>
<text class="c" x="715.30" y="31.12">1.1</text>
<path d="M711.70 253.07h-3M711.70 230.63h-3M711.70 208.18h-3M711.70 185.74h-3M711.70 163.29h-3M711.70 140.85h-3M711.70 118.40h-3M711.70 95.95h-3M711.70 73.51h-3M711.70 51.06h-3M711.70 28.62h-3" stroke="#333" stroke-width="0.8"/>
</svg></body></html>
